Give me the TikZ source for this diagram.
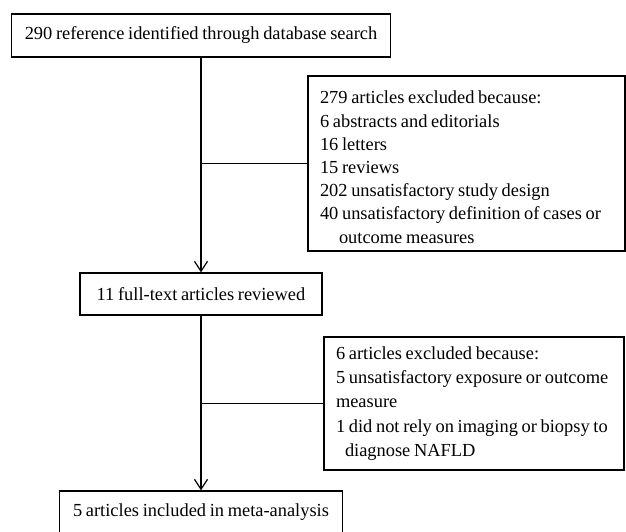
\documentclass[tikz,border=0pt]{standalone}
\usepackage{fontspec}
\setmainfont[WordSpace=0.8]{Liberation Serif}
\usetikzlibrary{arrows.meta}
\begin{document}
\begin{tikzpicture}[x=1pt,y=-1pt,
  box/.style={draw, line width=1.2pt, inner sep=0pt, font=\fontsize{18.4}{23.3}\selectfont},
  exbox/.style={box, inner xsep=12pt, inner ysep=0pt, align=left},
  flow/.style={line width=1.2pt},
  arr/.style={flow, -{Straight Barb[length=10pt,width=13pt,line width=1.2pt]}}]
\useasboundingbox (0,0) rectangle (626,532);
\clip (0,0) rectangle (626,532);
\node[box, minimum width=379pt, minimum height=43pt] (top) at (201,35.5) {290 reference identified through database search};
\node[box, minimum width=242pt, minimum height=42pt] (mid) at (201,294) {11 full-text articles reviewed};
\node[box, minimum width=283pt, minimum height=43pt] (bot) at (201,512.5) {5 articles included in meta-analysis};
\node[exbox, minimum width=317pt, minimum height=175pt, text width=293pt, font=\fontsize{18.4}{23.2}\selectfont] (ex1) at (466.5,163.5) {\spaceskip=0pt\xspaceskip=0pt\rule{0pt}{20pt}\mbox{279 articles excluded because:}\\
\mbox{6 abstracts and editorials}\\
\mbox{16 letters}\\
\mbox{15 reviews}\\
\mbox{202 unsatisfactory study design}\\
\mbox{40 unsatisfactory definition of cases or}\\
\hspace*{19pt}\mbox{outcome measures}};
\node[exbox, minimum width=300pt, minimum height=133pt, text width=276pt, font=\fontsize{18.4}{24.2}\selectfont] (ex2) at (474,403.5) {\spaceskip=0pt\xspaceskip=0pt\mbox{6 articles excluded because:}\\
\mbox{5 unsatisfactory exposure or outcome}\\
\mbox{measure}\\
\mbox{1 did not rely on imaging or biopsy to}\\
\hspace*{9pt}\mbox{diagnose NAFLD}};
\draw[arr] (top.south) -- (mid.north);
\draw[arr] (mid.south) -- (bot.north);
\draw[flow] (ex1.west) -- (ex1.west -| top.south);
\draw[flow] (ex2.west) -- (ex2.west -| mid.south);
\end{tikzpicture}
\end{document}
